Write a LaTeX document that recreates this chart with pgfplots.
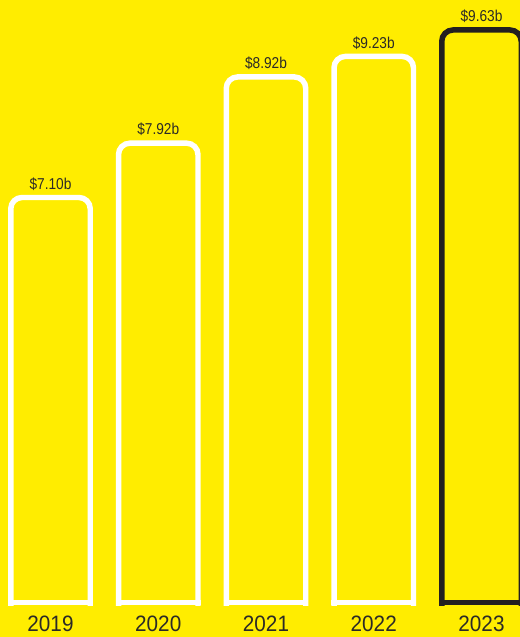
\documentclass[border=0pt]{standalone}
\usepackage{fontspec}
\usepackage{pgfplots}
\pgfplotsset{compat=1.18}
\newfontfamily\labfont[FakeStretch=0.87]{Liberation Sans}
\newfontfamily\yearfont[FakeStretch=0.93]{Liberation Sans}
\definecolor{bg}{HTML}{FFED00}
\definecolor{ink}{HTML}{2B2A27}
\definecolor{hilite}{HTML}{231F20}

\pgfplotsset{
  barframe/.style={scale only axis, width=390pt,
    xmin=-0.4687, xmax=4.3573, ymax=10.0823},
}

\begin{document}
\begin{tikzpicture}
\path[use as bounding box, fill=bg] (0,-24pt) rectangle (390pt,453.75pt);
% bars: their rounded bases lie below the baseline and are clipped off
\begin{scope}
\clip (0,0) rectangle (390pt,453.75pt);
\begin{axis}[
  barframe, at={(0,-30pt)}, anchor=south west,
  height=483.75pt, ymin=0.3421, hide axis,
  bar width=59.6pt,
  /pgf/number format/assume math mode=true,
  every node near coord/.append style={font=\labfont\fontsize{11.8}{14}\selectfont, text=ink, anchor=base, yshift=6.2pt, inner sep=0pt},
]
\addplot[ybar, bar shift=0pt, draw=white, fill=none, line width=4.1pt, rounded corners=8.5pt,
  nodes near coords={\$\pgfmathprintnumber[fixed,fixed zerofill,precision=2]{\pgfplotspointmeta}b}]
  coordinates {(0,7.10) (1,7.92) (2,8.92) (3,9.23)};
\addplot[ybar, bar shift=0pt, draw=hilite, fill=none, line width=4.1pt, rounded corners=8.5pt,
  nodes near coords={\$\pgfmathprintnumber[fixed,fixed zerofill,precision=2]{\pgfplotspointmeta}b}]
  coordinates {(4,9.63)};
\end{axis}
\end{scope}
% square bottom edges and year labels
\begin{axis}[
  barframe, at={(0,0)}, anchor=south west,
  height=453.75pt, ymin=0.9461,
  axis line style={draw=none}, tick style={draw=none},
  ytick=\empty, xtick={0,1,2,3,4},
  xticklabels={2019,2020,2021,2022,2023},
  xticklabel style={font=\yearfont\fontsize{16.7}{20}\selectfont, text=ink, anchor=base, yshift=-20pt},
  unbounded coords=jump,
]
\addplot[white, line width=4.1pt, mark=none] coordinates {
  (-0.3944,0.9873) (0.3944,0.9873) (0.5,nan)
  (0.6056,0.9873) (1.3944,0.9873) (1.5,nan)
  (1.6056,0.9873) (2.3944,0.9873) (2.5,nan)
  (2.6056,0.9873) (3.3944,0.9873)};
\addplot[hilite, line width=4.1pt, mark=none] coordinates {
  (3.6056,0.9873) (4.3944,0.9873)};
\end{axis}
\end{tikzpicture}
\end{document}
